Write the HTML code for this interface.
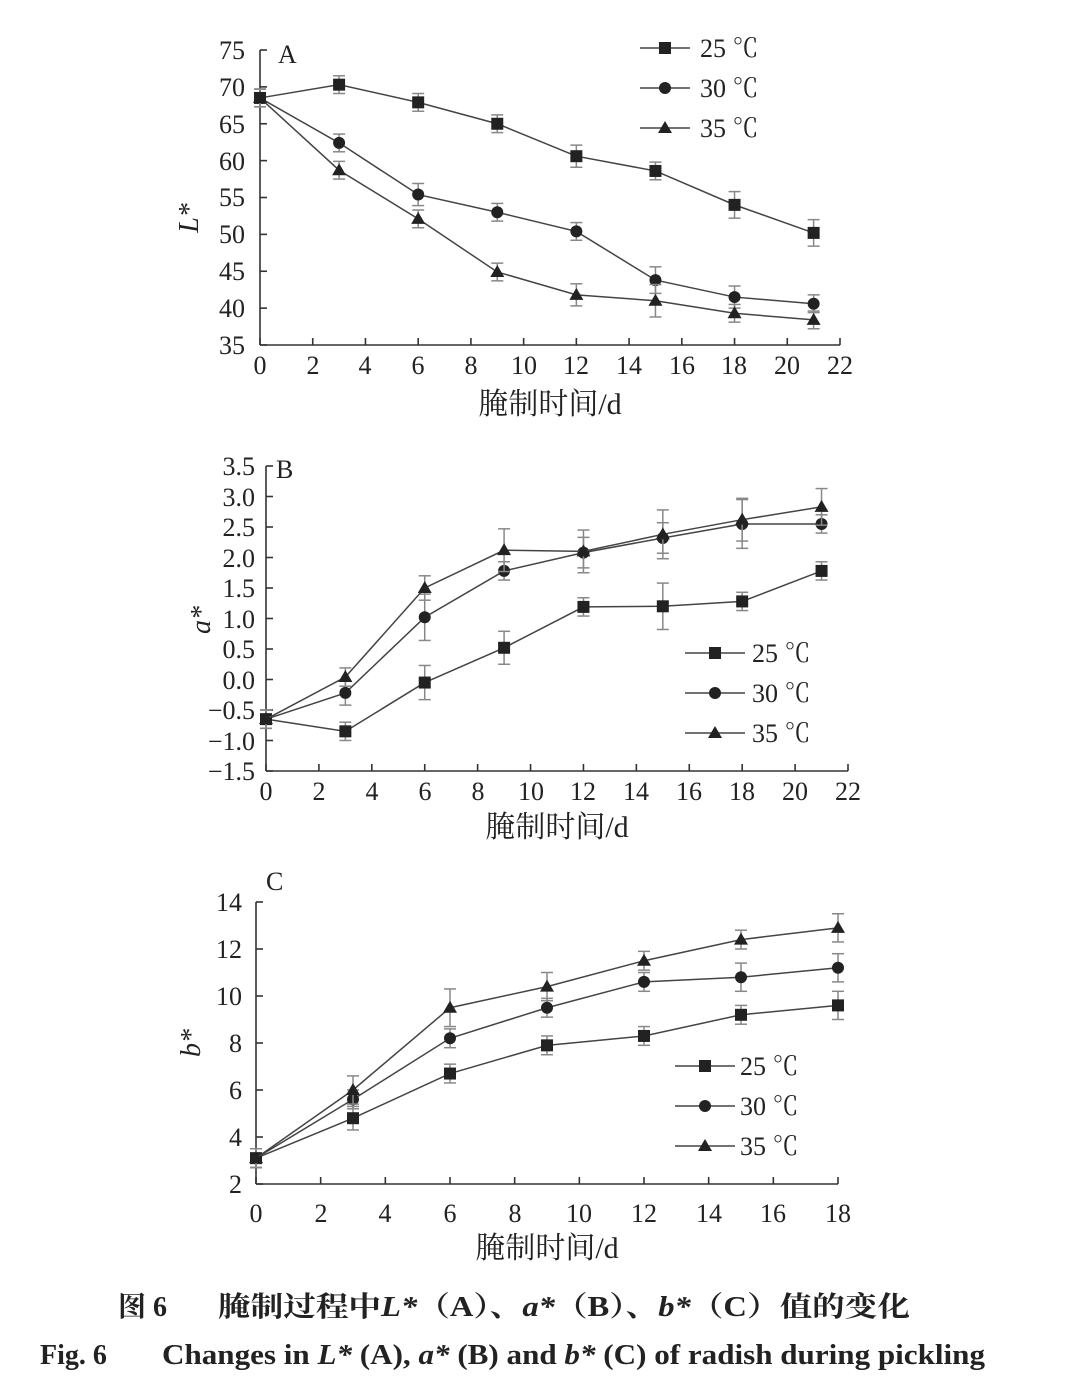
<!DOCTYPE html>
<html><head><meta charset="utf-8"><style>
html,body{margin:0;padding:0;background:#fff;}
svg{display:block;}
text{font-family:"Liberation Serif","Noto Serif CJK SC",serif;fill:#222;}
</style></head><body>
<svg id="s" width="1070" height="1386" viewBox="0 0 1070 1386" xmlns="http://www.w3.org/2000/svg">
<g font-size="26" text-anchor="end">
<text x="245" y="59">75</text><text x="245" y="96">70</text><text x="245" y="133">65</text><text x="245" y="170">60</text><text x="245" y="206">55</text><text x="245" y="243">50</text><text x="245" y="280">45</text><text x="245" y="317">40</text><text x="245" y="354">35</text>
<text x="255" y="475">3.5</text><text x="255" y="506">3.0</text><text x="255" y="536">2.5</text><text x="255" y="567">2.0</text><text x="255" y="597">1.5</text><text x="255" y="628">1.0</text><text x="255" y="658">0.5</text><text x="255" y="689">0.0</text><text x="255" y="719">−0.5</text><text x="255" y="750">−1.0</text><text x="255" y="780">−1.5</text>
<text x="242" y="911">14</text><text x="242" y="958">12</text><text x="242" y="1005">10</text><text x="242" y="1052">8</text><text x="242" y="1099">6</text><text x="242" y="1146">4</text><text x="242" y="1193">2</text>
</g>
<g font-size="26" text-anchor="middle">
<text x="260" y="374">0</text><text x="313" y="374">2</text><text x="365" y="374">4</text><text x="418" y="374">6</text><text x="471" y="374">8</text><text x="524" y="374">10</text><text x="576" y="374">12</text><text x="629" y="374">14</text><text x="682" y="374">16</text><text x="734" y="374">18</text><text x="787" y="374">20</text><text x="840" y="374">22</text>
<text x="266" y="800">0</text><text x="319" y="800">2</text><text x="372" y="800">4</text><text x="425" y="800">6</text><text x="478" y="800">8</text><text x="531" y="800">10</text><text x="583" y="800">12</text><text x="636" y="800">14</text><text x="689" y="800">16</text><text x="742" y="800">18</text><text x="795" y="800">20</text><text x="848" y="800">22</text>
<text x="256" y="1222">0</text><text x="321" y="1222">2</text><text x="385" y="1222">4</text><text x="450" y="1222">6</text><text x="515" y="1222">8</text><text x="579" y="1222">10</text><text x="644" y="1222">12</text><text x="709" y="1222">14</text><text x="773" y="1222">16</text><text x="838" y="1222">18</text>
</g>
<g font-size="30" text-anchor="middle">
<text x="550" y="414">腌制时间/d</text><text x="557" y="837">腌制时间/d</text><text x="547" y="1258">腌制时间/d</text>
</g>
<g font-size="26">
<text x="278" y="63">A</text><text x="276" y="478">B</text><text x="266" y="890">C</text>
<text x="700" y="57">25 ℃</text><text x="700" y="97">30 ℃</text><text x="700" y="137">35 ℃</text>
<text x="752" y="662">25 ℃</text><text x="752" y="702">30 ℃</text><text x="752" y="742">35 ℃</text>
<text x="740" y="1075">25 ℃</text><text x="740" y="1115">30 ℃</text><text x="740" y="1155">35 ℃</text>
</g>
<g font-size="28" font-style="italic">
<text transform="translate(198,218) rotate(-90)" text-anchor="middle">L*</text>
<text transform="translate(210,620) rotate(-90)" text-anchor="middle">a*</text>
<text transform="translate(200,1043) rotate(-90)" text-anchor="middle">b*</text>
</g>
<text x="118" y="1316" font-size="28" font-weight="bold">图 6</text>
<text x="218" y="1316" font-size="28" font-weight="bold" textLength="692" lengthAdjust="spacingAndGlyphs">腌制过程中<tspan font-style="italic">L*</tspan>（A）、<tspan font-style="italic">a*</tspan>（B）、<tspan font-style="italic">b*</tspan>（C）值的变化</text>
<text x="40" y="1364" font-size="28" font-weight="bold">Fig. 6</text>
<text x="162" y="1364" font-size="28" font-weight="bold" textLength="823" lengthAdjust="spacingAndGlyphs">Changes in <tspan font-style="italic">L*</tspan> (A), <tspan font-style="italic">a*</tspan> (B) and <tspan font-style="italic">b*</tspan> (C) of radish during pickling</text>
<g id="g"></g>
</svg>
<script>
var g=document.getElementById('g'),h='';
function L(a,b,c,d,col,w){h+='<line x1="'+a+'" y1="'+b+'" x2="'+c+'" y2="'+d+'" stroke="'+(col||'#333')+'" stroke-width="'+(w||1.6)+'"/>';}
function mk(t,x,y){if(t==0)h+='<rect x="'+(x-6)+'" y="'+(y-6)+'" width="12" height="12" fill="#222"/>';else if(t==1)h+='<circle cx="'+x+'" cy="'+y+'" r="6" fill="#222"/>';else h+='<polygon points="'+x+','+(y-7)+' '+(x+7)+','+(y+5)+' '+(x-7)+','+(y+5)+'" fill="#222"/>';}
function chart(c){
 var X=function(v){return c.x0+(v-c.xmin)*(c.x1-c.x0)/(c.xmax-c.xmin)},Y=function(v){return c.y0+(v-c.ymin)*(c.y1-c.y0)/(c.ymax-c.ymin)};
 L(c.x0,c.y1,c.x0,c.y0);L(c.x0,c.y0,c.x1,c.y0);
 for(var v=c.ymin;v<=c.ymax+1e-9;v+=c.ys)L(c.x0,Y(v),c.x0+7,Y(v));
 for(var v=c.xmin;v<=c.xmax+1e-9;v+=c.xs)L(X(v),c.y0,X(v),c.y0-7);
 c.data.forEach(function(s,t){
  var p=s.map(function(d){return X(d[0])+','+Y(d[1])}).join(' ');
  h+='<polyline points="'+p+'" fill="none" stroke="#444" stroke-width="1.5"/>';
  s.forEach(function(d){var e=d[2]||c.e;L(X(d[0]),Y(d[1]-e),X(d[0]),Y(d[1]+e),'#888',1.5);L(X(d[0])-6,Y(d[1]-e),X(d[0])+6,Y(d[1]-e),'#888',1.5);L(X(d[0])-6,Y(d[1]+e),X(d[0])+6,Y(d[1]+e),'#888',1.5);mk(t,X(d[0]),Y(d[1]));});
 });
 c.leg.forEach(function(l,t){L(l[0],l[2],l[1],l[2],'#444',1.5);mk(t,(l[0]+l[1])/2,l[2]);});
}
chart({x0:260,x1:840,xmin:0,xmax:22,xs:2,y0:345,y1:50,ymin:35,ymax:75,ys:5,e:1.2,
data:[[[0,68.5],[3,70.3],[6,67.9],[9,65],[12,60.6,1.5],[15,58.6],[18,54,1.8],[21,50.2,1.8]],
[[0,68.5],[3,62.4],[6,55.4,1.5],[9,53],[12,50.4],[15,43.8,1.8],[18,41.5,1.5],[21,40.6]],
[[0,68.5],[3,58.7],[6,52.1],[9,44.9],[12,41.8,1.5],[15,41,2.2],[18,39.3],[21,38.4]]],
leg:[[640,690,48],[640,690,88],[640,690,128]]});
chart({x0:266,x1:848,xmin:0,xmax:22,xs:2,y0:771,y1:466,ymin:-1.5,ymax:3.5,ys:0.5,e:0.15,
data:[[[0,-0.65],[3,-0.85],[6,-0.05,0.28],[9,0.52,0.27],[12,1.19],[15,1.2,0.38],[18,1.28],[21,1.78]],
[[0,-0.65],[3,-0.22,0.2],[6,1.02,0.38],[9,1.78],[12,2.08,0.25],[15,2.32,0.25],[18,2.55,0.4],[21,2.55]],
[[0,-0.65],[3,0.04],[6,1.5,0.2],[9,2.12,0.35],[12,2.1,0.35],[15,2.38,0.4],[18,2.62,0.35],[21,2.83,0.3]]],
leg:[[685,745,653],[685,745,693],[685,745,733]]});
chart({x0:256,x1:838,xmin:0,xmax:18,xs:2,y0:1184,y1:902,ymin:2,ymax:14,ys:2,e:0.4,
data:[[[0,3.1],[3,4.8,0.5],[6,6.7],[9,7.9],[12,8.3],[15,9.2],[18,9.6,0.6]],
[[0,3.1],[3,5.6],[6,8.2],[9,9.5],[12,10.6],[15,10.8,0.6],[18,11.2,0.6]],
[[0,3.1],[3,6.0,0.6],[6,9.5,0.8],[9,10.4,0.6],[12,11.5],[15,12.4],[18,12.9,0.6]]],
leg:[[675,735,1066],[675,735,1106],[675,735,1146]]});
g.innerHTML=h;
</script>
</body></html>
